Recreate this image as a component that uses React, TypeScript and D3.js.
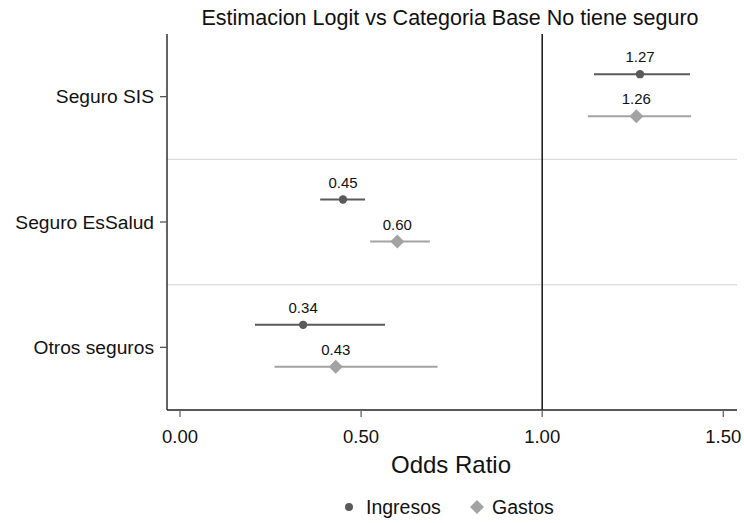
import * as d3 from "d3";

const categories = ["Seguro SIS", "Seguro EsSalud", "Otros seguros"];
const seriesNames = ["Ingresos", "Gastos"];
const ingresosOR = [1.27, 0.45, 0.34];
const ingresosLow = [1.143, 0.387, 0.207];
const ingresosHigh = [1.408, 0.511, 0.566];
const gastosOR = [1.26, 0.6, 0.43];
const gastosLow = [1.126, 0.525, 0.261];
const gastosHigh = [1.411, 0.69, 0.711];
const xTicks = [0, 0.5, 1, 1.5];

const W = 744;
const H = 523;
const FONT = "'Liberation Sans', Arial, sans-serif";
const darkGray = "#5a5a5a";
const lightGray = "#a3a3a3";

const App = () => {
  const left = 167;
  const right = 737;
  const top = 34;
  const bottom = 410;

  const x = d3.scaleLinear().domain([0, 1.5]).range([180, 723.3]);
  const y = d3.scaleBand<string>().domain(categories).range([top, bottom]);
  const bw = y.bandwidth();
  const offsets = [-22.5, 19.5];

  const series = [
    { name: seriesNames[0], or: ingresosOR, lo: ingresosLow, hi: ingresosHigh, color: darkGray },
    { name: seriesNames[1], or: gastosOR, lo: gastosLow, hi: gastosHigh, color: lightGray },
  ];

  const diamond = (cx: number, cy: number, r: number) =>
    `M${cx},${cy - r}L${cx + r},${cy}L${cx},${cy + r}L${cx - r},${cy}Z`;

  return (
    <div style={{ position: "absolute", left: 0, top: 0 }}>
      <svg width={W} height={H} style={{ display: "block", background: "#fff" }} fontFamily={FONT}>
        {/* title */}
        <text x={450} y={25} textAnchor="middle" fontSize={21.5} fill="#111">
          Estimacion Logit vs Categoria Base No tiene seguro
        </text>

        {/* separators between categories */}
        {categories.slice(1).map((c) => (
          <line key={c} x1={left} x2={right} y1={y(c)!} y2={y(c)!} stroke="#dcdcdc" strokeWidth={1.3} />
        ))}

        {/* reference line at 1 */}
        <line x1={x(1)} x2={x(1)} y1={top} y2={bottom} stroke="#222" strokeWidth={1.6} />

        {/* axes */}
        <line x1={left} x2={left} y1={top} y2={bottom} stroke="#222" strokeWidth={1.4} />
        <line x1={left} x2={right} y1={bottom} y2={bottom} stroke="#222" strokeWidth={1.4} />

        {categories.map((c) => {
          const cy = y(c)! + bw / 2;
          return (
            <g key={c}>
              <line x1={left - 7} x2={left} y1={cy} y2={cy} stroke="#555" strokeWidth={1.3} />
              <text x={left - 13} y={cy} dy="0.35em" textAnchor="end" fontSize={19.2} fill="#111">
                {c}
              </text>
            </g>
          );
        })}

        {xTicks.map((t) => (
          <g key={t}>
            <line x1={x(t)} x2={x(t)} y1={bottom} y2={bottom + 7} stroke="#666" strokeWidth={1.3} />
            <text x={x(t)} y={437} dy="0.35em" textAnchor="middle" fontSize={18.5} fill="#111">
              {t.toFixed(2)}
            </text>
          </g>
        ))}

        <text x={451} y={465} dy="0.35em" textAnchor="middle" fontSize={24} fill="#111">
          Odds Ratio
        </text>

        {/* estimates */}
        {series.map((s, si) =>
          categories.map((c, ci) => {
            const cy = y(c)! + bw / 2 + offsets[si];
            const cx = x(s.or[ci]);
            return (
              <g key={s.name + c}>
                <line x1={x(s.lo[ci])} x2={x(s.hi[ci])} y1={cy} y2={cy} stroke={s.color} strokeWidth={2} />
                {si === 0 ? (
                  <circle cx={cx} cy={cy} r={4.2} fill={s.color} />
                ) : (
                  <path d={diamond(cx, cy, 7)} fill={s.color} />
                )}
                <text x={cx} y={cy - 17} dy="0.35em" textAnchor="middle" fontSize={15} fill="#111">
                  {s.or[ci].toFixed(2)}
                </text>
              </g>
            );
          })
        )}

        {/* legend */}
        <circle cx={349} cy={507} r={4} fill={darkGray} />
        <text x={366} y={507} dy="0.35em" fontSize={19.5} fill="#111">
          {seriesNames[0]}
        </text>
        <path d={diamond(477, 507, 7)} fill={lightGray} />
        <text x={492} y={507} dy="0.35em" fontSize={19.5} fill="#111">
          {seriesNames[1]}
        </text>
      </svg>
    </div>
  );
};

export default App;
